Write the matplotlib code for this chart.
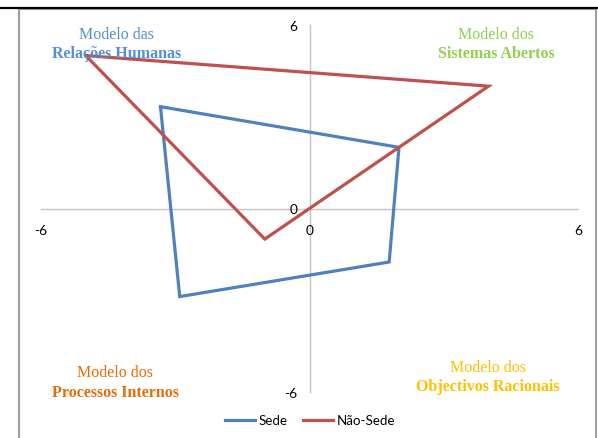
import matplotlib
matplotlib.use("Agg")
import matplotlib.pyplot as plt
from matplotlib.lines import Line2D

# Competing Values Framework profile: Sede vs Não-Sede
sede_x = [-3.33, 2.0, 1.78, -2.9, -3.33]
sede_y = [3.33, 2.0, -1.75, -2.88, 3.33]
nao_sede_x = [-5.0, 4.0, 0.0, -1.0, -5.0]
nao_sede_y = [5.0, 4.0, 0.0, -1.0, 5.0]
series_names = ["Sede", "Não-Sede"]
ticks = [-6, 0, 6]

quadrants = [
    ("Modelo das", "Relações Humanas", "#558ED5"),
    ("Modelo dos", "Sistemas Abertos", "#92D050"),
    ("Modelo dos", "Processos Internos", "#E46C0A"),
    ("Modelo dos", "Objectivos Racionais", "#FFC000"),
]

W, H = 598, 439
fig = plt.figure(figsize=(W / 100, H / 100), dpi=100)
fig.patch.set_facecolor("white")

# plot area in pixels: x from 41 to 578, y from 26 to 393 (top-down)
ax = fig.add_axes([41 / W, (H - 393) / H, 537 / W, 367 / H])
ax.set_xlim(-6, 6)
ax.set_ylim(-6, 6)

ax.plot(sede_x, sede_y, color="#4F81BD", lw=2.3, label=series_names[0],
        solid_joinstyle="miter", zorder=3)
ax.plot(nao_sede_x, nao_sede_y, color="#C0504D", lw=2.3, label=series_names[1],
        solid_joinstyle="miter", zorder=3)

for side in ("top", "right"):
    ax.spines[side].set_visible(False)
ax.spines["left"].set_position(("data", 0))
ax.spines["bottom"].set_position(("data", 0))
for side in ("left", "bottom"):
    ax.spines[side].set_color("#C4C4C4")
    ax.spines[side].set_linewidth(1.0)
    ax.spines[side].set_zorder(1)

tick_font = dict(family="Lato", size=9.8)
ax.set_xticks(ticks)
ax.set_yticks(ticks)
ax.set_xticklabels([str(t) for t in ticks], fontdict=tick_font)
ax.set_yticklabels([str(t) for t in ticks], fontdict=tick_font)
ax.tick_params(axis="both", length=0, colors="black")
ax.tick_params(axis="x", pad=11)
ax.tick_params(axis="y", pad=9)
ax.patch.set_alpha(0)

# quadrant captions
pos = [(0.1415, 0.975, 0.924), (0.847, 0.975, 0.924),
       (0.138, 0.0545, 0.0), (0.832, 0.068, 0.016)]
for (top, bottom, col), (px, py1, py2) in zip(quadrants, pos):
    ax.text(px, py1, top, transform=ax.transAxes, ha="center", va="center",
            family="Liberation Serif", fontsize=11.5, color=col)
    ax.text(px, py2, bottom, transform=ax.transAxes, ha="center", va="center",
            family="Liberation Serif", fontsize=11.5, fontweight="bold", color=col)

fig.legend(loc="center", bbox_to_anchor=(310 / W, 1 - 421.5 / H), ncol=2,
           frameon=False, prop=dict(family="Lato", size=9.6),
           handlelength=2.25, handletextpad=0.25, columnspacing=1.15)

# chart frame and the rule above it
fig.add_artist(Line2D([18.5 / W, 18.5 / W, 596 / W, 596 / W],
                      [0, 1 - 10 / H, 1 - 10 / H, 0],
                      transform=fig.transFigure, color="#A0A0A0", lw=1.5))
fig.add_artist(Line2D([0, 1], [1 - 8.5 / H, 1 - 8.5 / H],
                      transform=fig.transFigure, color="black", lw=1.6))

fig.savefig("out.png", dpi=100)
